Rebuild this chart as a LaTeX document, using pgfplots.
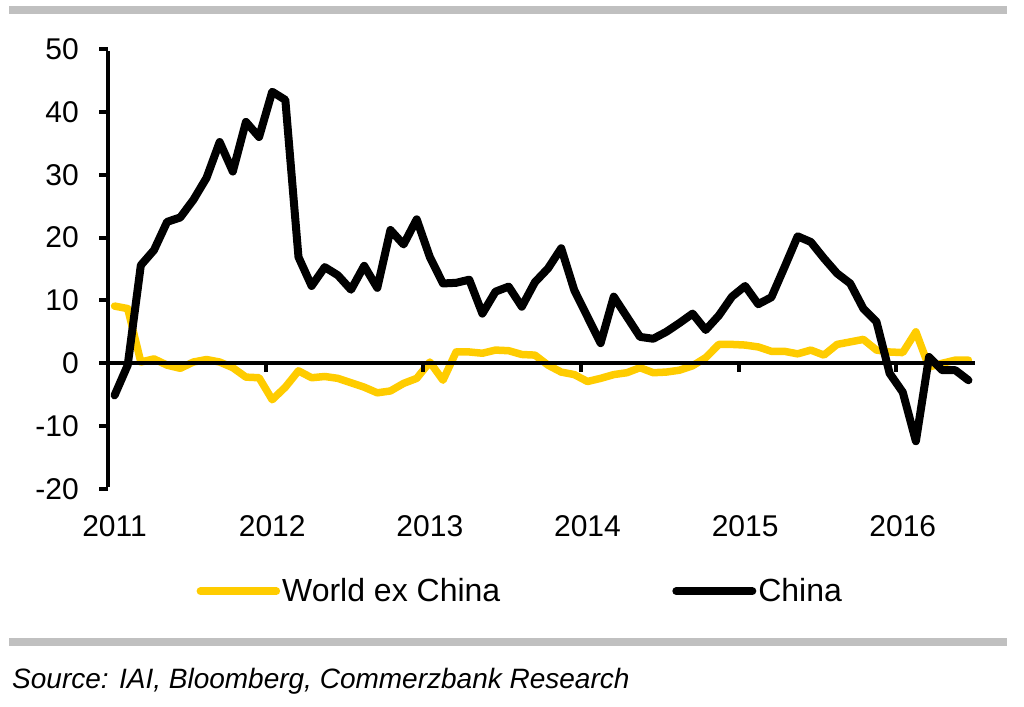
\documentclass[border=0pt]{standalone}
\usepackage{fontspec}
\setmainfont{Liberation Sans}
\usepackage{pgfplots}
\pgfplotsset{compat=1.18}
\definecolor{wyellow}{HTML}{FFCC00}
\definecolor{bargray}{HTML}{C0C0C0}
\begin{document}
\begin{tikzpicture}[x=1pt,y=1pt]
\useasboundingbox (0,0) rectangle (1024,706);
\fill[bargray] (9,692) rectangle (1007,700);
\fill[bargray] (9,60) rectangle (1007,68);
\node[anchor=base west, inner sep=0pt, font=\fontsize{28}{34}\selectfont\itshape] at (12,18) {Source: IAI, Bloomberg, Commerzbank Research};
\begin{axis}[
  at={(108pt,217pt)}, anchor=south west,
  scale only axis, width=867pt, height=440pt,
  xmin=0, xmax=66, ymin=-20, ymax=50,
  axis y line*=left, axis x line*=bottom,
  x axis line style={draw=none},
  y axis line style={draw=none},
  tick align=outside, major tick length=9pt,
  ytick={-20,-10,0,10,20,30,40,50},
  yticklabels={-20,-10,0,10,20,30,40,50},
  ytick style={draw=none},
  xtick={0.5,12.5,24.5,36.5,48.5,60.5},
  xticklabels={2011,2012,2013,2014,2015,2016},
  xtick style={draw=none},
  yticklabel style={inner sep=0pt, xshift=-20pt, font=\fontsize{30}{36}\selectfont},
  xticklabel style={inner sep=0pt, yshift=-17pt, font=\fontsize{30}{36}\selectfont},
  legend columns=2,
  legend style={draw=none, fill=none, at={(0.102,-0.232)}, anchor=west, inner sep=0pt,
    font=\fontsize{32}{38}\selectfont, nodes={inner sep=2pt},
    /tikz/every even column/.append style={column sep=170pt}},
  legend cell align=left,
  legend image code/.code={\draw[#1] (0pt,0pt) -- (76pt,0pt);},
  line join=round, line cap=round,
  clip=false,
]
\addplot[wyellow, line width=7.5pt, line cap=round, line join=round] table {
x y
0.5 9.1
1.5 8.7
2.5 0.2
3.5 0.7
4.5 -0.3
5.5 -0.8
6.5 0.2
7.5 0.6
8.5 0.2
9.5 -0.7
10.5 -2.2
11.5 -2.3
12.5 -5.8
13.5 -3.8
14.5 -1.2
15.5 -2.3
16.5 -2.1
17.5 -2.4
18.5 -3.1
19.5 -3.8
20.5 -4.7
21.5 -4.4
22.5 -3.2
23.5 -2.4
24.5 0.2
25.5 -2.7
26.5 1.8
27.5 1.8
28.5 1.6
29.5 2.1
30.5 2.0
31.5 1.4
32.5 1.3
33.5 -0.3
34.5 -1.4
35.5 -1.8
36.5 -2.9
37.5 -2.4
38.5 -1.8
39.5 -1.5
40.5 -0.7
41.5 -1.5
42.5 -1.4
43.5 -1.1
44.5 -0.4
45.5 0.9
46.5 3.0
47.5 3.0
48.5 2.9
49.5 2.6
50.5 1.9
51.5 1.9
52.5 1.5
53.5 2.1
54.5 1.3
55.5 3.0
56.5 3.4
57.5 3.8
58.5 2.1
59.5 1.8
60.5 1.7
61.5 5.0
62.5 -0.6
63.5 0.0
64.5 0.5
65.5 0.5
};
\addlegendentry{World ex China}
\addplot[black, line width=8pt, line cap=round, line join=round] table {
x y
0.5 -5.1
1.5 -0.3
2.5 15.6
3.5 18.0
4.5 22.5
5.5 23.2
6.5 26.0
7.5 29.5
8.5 35.2
9.5 30.5
10.5 38.4
11.5 36.0
12.5 43.2
13.5 41.9
14.5 16.9
15.5 12.3
16.5 15.3
17.5 14.0
18.5 11.7
19.5 15.5
20.5 12.0
21.5 21.2
22.5 18.9
23.5 22.9
24.5 16.9
25.5 12.7
26.5 12.8
27.5 13.3
28.5 7.9
29.5 11.4
30.5 12.2
31.5 9.0
32.5 12.9
33.5 15.1
34.5 18.3
35.5 11.6
36.5 7.4
37.5 3.2
38.5 10.6
39.5 7.4
40.5 4.2
41.5 3.9
42.5 5.0
43.5 6.4
44.5 7.9
45.5 5.3
46.5 7.6
47.5 10.6
48.5 12.3
49.5 9.4
50.5 10.5
51.5 15.3
52.5 20.2
53.5 19.3
54.5 16.7
55.5 14.3
56.5 12.7
57.5 8.7
58.5 6.6
59.5 -1.6
60.5 -4.6
61.5 -12.4
62.5 1.0
63.5 -1.1
64.5 -1.1
65.5 -2.7
};
\addlegendentry{China}
\draw[line width=4pt, line cap=butt] (axis cs:0,0) -- (axis cs:66,0);
\draw[line width=4pt, line cap=butt] (axis cs:12,0) -- ++(0pt,-9pt);
\draw[line width=4pt, line cap=butt] (axis cs:24,0) -- ++(0pt,-9pt);
\draw[line width=4pt, line cap=butt] (axis cs:36,0) -- ++(0pt,-9pt);
\draw[line width=4pt, line cap=butt] (axis cs:48,0) -- ++(0pt,-9pt);
\draw[line width=4pt, line cap=butt] (axis cs:60,0) -- ++(0pt,-9pt);
\draw[line width=4pt, line cap=butt] ([yshift=2pt]axis cs:0,-20) -- ([yshift=-2pt]axis cs:0,50);
\draw[line width=4pt, line cap=butt] (axis cs:0,-20) -- ++(-9pt,0pt);
\draw[line width=4pt, line cap=butt] (axis cs:0,-10) -- ++(-9pt,0pt);
\draw[line width=4pt, line cap=butt] (axis cs:0,0) -- ++(-9pt,0pt);
\draw[line width=4pt, line cap=butt] (axis cs:0,10) -- ++(-9pt,0pt);
\draw[line width=4pt, line cap=butt] (axis cs:0,20) -- ++(-9pt,0pt);
\draw[line width=4pt, line cap=butt] (axis cs:0,30) -- ++(-9pt,0pt);
\draw[line width=4pt, line cap=butt] (axis cs:0,40) -- ++(-9pt,0pt);
\draw[line width=4pt, line cap=butt] (axis cs:0,50) -- ++(-9pt,0pt);
\end{axis}
\end{tikzpicture}
\end{document}
